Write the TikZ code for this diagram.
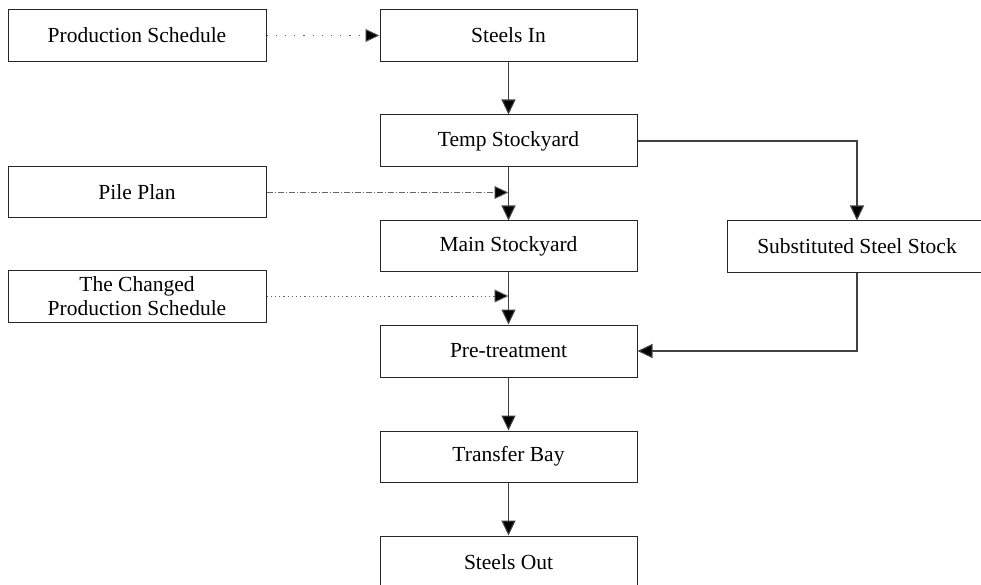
\documentclass[tikz,border=0pt]{standalone}
\usepackage{fontspec}
\setmainfont{Liberation Serif}
\usetikzlibrary{arrows.meta}
\begin{document}
\begin{tikzpicture}[x=1pt,y=-1pt,
  box/.style={draw=black!85,line width=1pt,fill=white,minimum height=52pt,inner sep=0pt,align=center,font=\fontsize{21.5}{24.5}\selectfont},
  flow/.style={draw=black!75,line width=1.1pt,-{Triangle[length=15pt,width=14pt,fill=black]}},
  info/.style={draw=black!60,line width=0.9pt,-{Triangle[length=14pt,width=13pt,fill=black]}}]
\useasboundingbox (0,0) rectangle (981,585);
\node[box,minimum width=258pt] (ps) at (137,35.5) {Production Schedule};
\node[box,minimum width=257pt] (si) at (508.5,35.5) {Steels In};
\node[box,minimum width=257pt] (ts) at (508.5,141) {Temp Stockyard};
\node[box,minimum width=258pt,minimum height=51pt] (pp) at (137,192.5) {Pile Plan};
\node[box,minimum width=257pt,minimum height=50pt] (ms) at (508.5,246) {Main Stockyard};
\node[box,minimum width=260pt,minimum height=51pt] (ss) at (857,246.5) {Substituted Steel Stock};
\node[box,minimum width=258pt] (cp) at (137,296) {The Changed\\Production Schedule};
\node[box,minimum width=257pt] (pt) at (508.5,351) {Pre-treatment};
\node[box,minimum width=257pt,minimum height=51pt] (tb) at (508.5,456.5) {Transfer Bay};
\node[box,minimum width=257pt] (so) at (508.5,562) {Steels Out};
\draw[flow] (si) -- (ts);
\draw[flow] (ts) -- (ms);
\draw[flow] (ms) -- (pt);
\draw[flow] (pt) -- (tb);
\draw[flow] (tb) -- (so);
\draw[flow] (ts.east) -| (ss.north);
\draw[flow] (ss.south) |- (pt.east);
\draw[info,dash pattern=on 1.2pt off 8pt] (ps.east) -- (si.west);
\draw[info,dash pattern=on 6pt off 2pt on 1pt off 2pt] (pp.east) -- (pp.east -| ts.south);
\draw[info,dash pattern=on 1.2pt off 3pt] (cp.east) -- (cp.east -| ms.south);
\end{tikzpicture}
\end{document}
